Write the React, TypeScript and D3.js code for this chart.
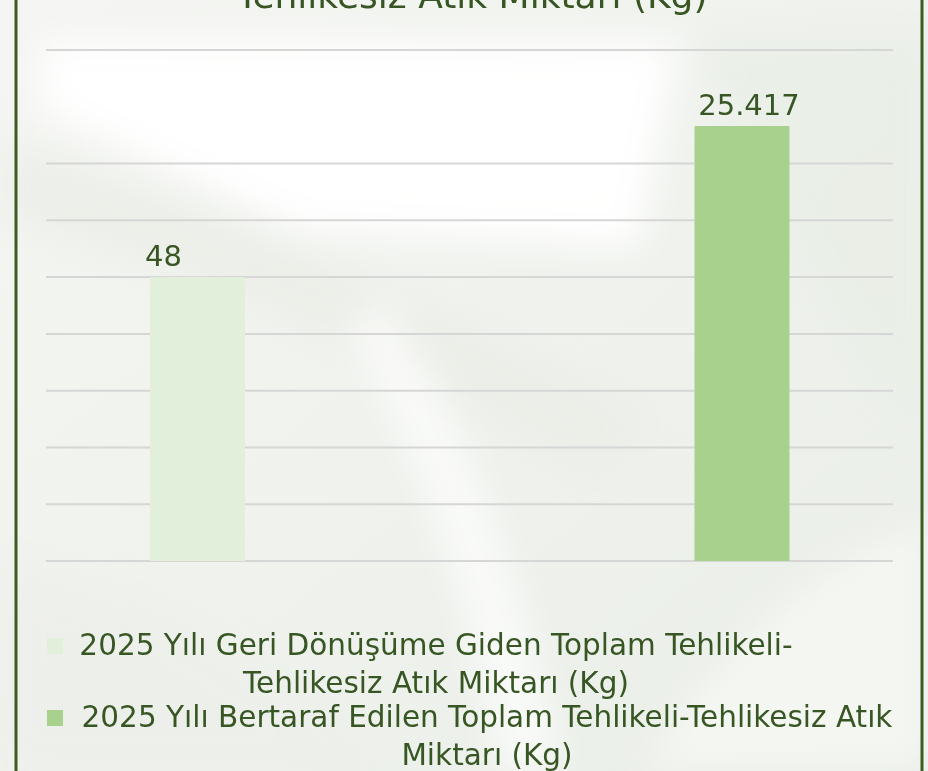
import React from "react";
import * as d3 from "d3";

const categories = [
  "2025 Yılı Geri Dönüşüme Giden Toplam Tehlikeli-Tehlikesiz Atık Miktarı (Kg)",
  "2025 Yılı Bertaraf Edilen Toplam Tehlikeli-Tehlikesiz Atık Miktarı (Kg)",
];
const values = [48, 25417];
const valueLabels = ["48", "25.417"];
const seriesColors = ["#e2efda", "#a9d18e"];
const legendLines = [
  ["2025 Yılı Geri Dönüşüme Giden Toplam Tehlikeli-", "Tehlikesiz Atık Miktarı (Kg)"],
  ["2025 Yılı Bertaraf Edilen Toplam Tehlikeli-Tehlikesiz Atık", "Miktarı (Kg)"],
];
const titleText = "Tehlikesiz Atık Miktarı (Kg)";
const yDomain = [3.614e-4, 5.973e5];

const W = 928;
const H = 771;
const TEXT = "#375623";
const FONT = "'DejaVu Sans', Verdana, sans-serif";

export default function App() {
  const plotTop = 50;
  const plotBottom = 561;
  const gridLeft = 46;
  const gridRight = 893;
  const barW = 95;

  const x = d3.scalePoint<string>().domain(categories).range([197.5, 742]);
  const y = d3.scaleLog().domain(yDomain).range([plotBottom, plotTop]);
  const gridY = d3
    .range(10)
    .map((i) => plotBottom - (i * (plotBottom - plotTop)) / 9)
    .filter((_, i) => i !== 8);

  const labelDx = [-34, 7];
  const legendCenters = [436, 487];
  const legendBase = [655, 727];
  const lineGap = 38;

  return (
    <svg
      width={W}
      height={H}
      style={{ position: "absolute", left: 0, top: 0, display: "block" }}
      fontFamily={FONT}
    >
      <defs>
        <filter id="blur" x="-50%" y="-50%" width="200%" height="200%">
          <feGaussianBlur stdDeviation="18" />
        </filter>
        <linearGradient id="bg" x1="0" y1="0" x2="1" y2="1">
          <stop offset="0" stopColor="#f5f6f3" />
          <stop offset="0.5" stopColor="#eff2ed" />
          <stop offset="1" stopColor="#eaeee8" />
        </linearGradient>
      </defs>
      <rect x={0} y={0} width={W} height={H} fill="url(#bg)" />
      <g filter="url(#blur)">
        <path d="M40,40 L680,40 L640,250 L300,230 L40,110 Z" fill="#ffffff" opacity={0.95} />
        <path d="M0,140 C200,200 420,300 640,420 L600,470 C400,360 180,260 0,220 Z" fill="#e9ede6" opacity={0.7} />
        <path d="M700,40 C760,150 800,300 928,420 L928,40 Z" fill="#e8ede6" opacity={0.8} />
        <path d="M380,300 C460,420 520,560 560,771 L500,771 C470,600 420,450 350,330 Z" fill="#ffffff" opacity={0.7} />
        <path d="M0,560 C150,600 280,680 360,771 L0,771 Z" fill="#eceee9" opacity={0.7} />
        <path d="M640,771 C720,640 820,560 928,520 L928,771 Z" fill="#f6f7f4" opacity={0.8} />
      </g>

      {/* gridlines */}
      {gridY.map((gy, i) => (
        <line
          key={i}
          x1={gridLeft}
          x2={gridRight}
          y1={gy}
          y2={gy}
          stroke="#d6d6d6"
          strokeWidth={2}
        />
      ))}

      {/* bars */}
      {categories.map((c, i) => (
        <rect
          key={c}
          x={(x(c) as number) - barW / 2}
          y={y(values[i])}
          width={barW}
          height={plotBottom - y(values[i])}
          fill={seriesColors[i]}
        />
      ))}

      {/* data labels */}
      {categories.map((c, i) => (
        <text
          key={c + "l"}
          x={(x(c) as number) + labelDx[i]}
          y={y(values[i]) - 11}
          textAnchor="middle"
          fontSize={29}
          fill={TEXT}
        >
          {valueLabels[i]}
        </text>
      ))}

      {/* title (partially cut off at top) */}
      <text x={472} y={8} textAnchor="middle" fontSize={36} fill={TEXT}>
        {titleText}
      </text>

      {/* legend */}
      {legendLines.map((lines, i) => (
        <g key={i}>
          <rect x={47} y={legendBase[i] - 17} width={16} height={16} fill={seriesColors[i]} />
          {lines.map((ln, j) => (
            <text
              key={j}
              x={legendCenters[i]}
              y={legendBase[i] + j * lineGap}
              textAnchor="middle"
              fontSize={29.5}
              fill={TEXT}
            >
              {ln}
            </text>
          ))}
        </g>
      ))}

      {/* frame borders */}
      <rect x={16} y={-5} width={906} height={H + 10} fill="none" stroke="#3b5d22" strokeWidth={3} />
    </svg>
  );
}
